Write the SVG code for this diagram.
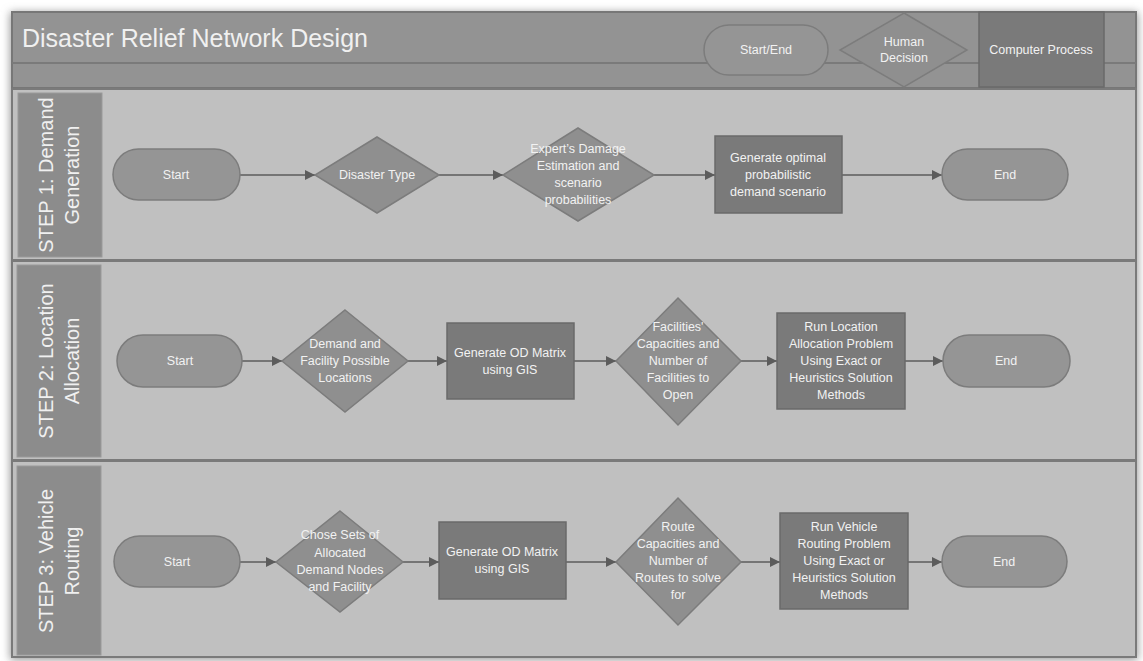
<svg xmlns="http://www.w3.org/2000/svg" width="1143" height="661" viewBox="0 0 1143 661">
<defs>
<filter id="sh" x="-5%" y="-5%" width="110%" height="110%"><feGaussianBlur stdDeviation="4"/></filter>
<marker id="ah" markerWidth="10" markerHeight="10" refX="10" refY="5" orient="auto" markerUnits="userSpaceOnUse"><path d="M0,0 L10,5 L0,10 Z" fill="#5c5c5c"/></marker>
<style>
.frame{fill:#939393;stroke:#777;stroke-width:2}
.lane{fill:#c0c0c0;stroke:#7a7a7a;stroke-width:2}
.lab{fill:#8c8c8c;stroke:#9a9a9a;stroke-width:1}
.pill{fill:#959595;stroke:#7c7c7c;stroke-width:1.5}
.dia{fill:#8f8f8f;stroke:#7c7c7c;stroke-width:1.5}
.proc{fill:#7a7a7a;stroke:#6a6a6a;stroke-width:1.5}
.t{font-family:"Liberation Sans",Arial,sans-serif;font-size:12.5px;fill:#f2f2f2;text-anchor:middle;dominant-baseline:central}
.lt{font-family:"Liberation Sans",Arial,sans-serif;font-size:20px;fill:#f0f0f0;text-anchor:middle;dominant-baseline:central}
.conn line{stroke:#5c5c5c;stroke-width:1.5;marker-end:url(#ah)}
</style>
</defs>
<rect x="0" y="0" width="1143" height="661" fill="#ffffff"/>
<rect x="10" y="12" width="1128" height="648" fill="#9a9a9a" filter="url(#sh)"/>
<g id="header">
<rect class="frame" x="12" y="12" width="1124" height="76"/>
<line x1="12" y1="63" x2="1136" y2="63" stroke="#7a7a7a" stroke-width="2"/>
<text x="22" y="38" font-family="Liberation Sans,Arial,sans-serif" font-size="25" fill="#f0f0f0" dominant-baseline="central">Disaster Relief Network Design</text>
</g>
<g id="legend">
<rect class="pill" x="704" y="25" width="124" height="50" rx="25"/>
<text class="t" x="766" y="50">Start/End</text>
<polygon class="dia" points="904,13 967,50 904,87 840,50"/>
<text class="t" x="904" y="42">Human</text>
<text class="t" x="904" y="58">Decision</text>
<rect class="proc" x="979" y="12" width="125" height="75"/>
<text class="t" x="1041" y="50">Computer Process</text>
</g>
<g id="lane1">
<rect class="lane" x="12" y="89" width="1124" height="171"/>
<rect class="lab" x="18" y="93" width="84" height="164"/>
<text class="lt" transform="translate(46,175) rotate(-90)">STEP 1: Demand</text>
<text class="lt" transform="translate(72,175) rotate(-90)">Generation</text>
</g>
<g id="lane2">
<rect class="lane" x="12" y="261" width="1124" height="199"/>
<rect class="lab" x="17" y="265" width="84" height="192"/>
<text class="lt" transform="translate(46,361) rotate(-90)">STEP 2: Location</text>
<text class="lt" transform="translate(72,361) rotate(-90)">Allocation</text>
</g>
<g id="lane3">
<rect class="lane" x="12" y="461" width="1124" height="196"/>
<rect class="lab" x="17" y="466" width="84" height="189"/>
<text class="lt" transform="translate(46,561) rotate(-90)">STEP 3: Vehicle</text>
<text class="lt" transform="translate(72,561) rotate(-90)">Routing</text>
</g>
<g class="conn" id="connectors">
<line x1="240" y1="175" x2="315" y2="175"/>
<line x1="439" y1="175" x2="503" y2="175"/>
<line x1="654" y1="175" x2="715" y2="175"/>
<line x1="842" y1="175" x2="942" y2="175"/>
<line x1="242" y1="361" x2="282" y2="361"/>
<line x1="408" y1="361" x2="447" y2="361"/>
<line x1="574" y1="361" x2="616" y2="361"/>
<line x1="741" y1="361" x2="777" y2="361"/>
<line x1="905" y1="361" x2="943" y2="361"/>
<line x1="240" y1="562" x2="276" y2="562"/>
<line x1="403" y1="562" x2="439" y2="562"/>
<line x1="566" y1="562" x2="616" y2="562"/>
<line x1="741" y1="562" x2="780" y2="562"/>
<line x1="908" y1="562" x2="942" y2="562"/>
</g>
<g id="s1-start"><rect class="pill" x="113" y="149" width="127" height="51" rx="25.5"/><text class="t" x="176" y="175">Start</text></g>
<g id="s1-disaster"><polygon class="dia" points="377,137 439,175 377,213 315,175"/><text class="t" x="377" y="175">Disaster Type</text></g>
<g id="s1-expert"><polygon class="dia" points="578,128 654,175 578,221 503,175"/>
<text class="t" x="578" y="149">Expert’s Damage</text><text class="t" x="578" y="166">Estimation and</text><text class="t" x="578" y="183">scenario</text><text class="t" x="578" y="200">probabilities</text></g>
<g id="s1-generate"><rect class="proc" x="715" y="136" width="127" height="77"/>
<text class="t" x="778" y="158">Generate optimal</text><text class="t" x="778" y="175">probabilistic</text><text class="t" x="778" y="192">demand scenario</text></g>
<g id="s1-end"><rect class="pill" x="942" y="149" width="126" height="51" rx="25.5"/><text class="t" x="1005" y="175">End</text></g>
<g id="s2-start"><rect class="pill" x="117" y="335" width="125" height="52" rx="26"/><text class="t" x="180" y="361">Start</text></g>
<g id="s2-demand"><polygon class="dia" points="345,310 408,361 345,412 282,361"/>
<text class="t" x="345" y="344">Demand and</text><text class="t" x="345" y="361">Facility Possible</text><text class="t" x="345" y="378">Locations</text></g>
<g id="s2-od"><rect class="proc" x="447" y="323" width="127" height="76"/>
<text class="t" x="510" y="353">Generate OD Matrix</text><text class="t" x="510" y="370">using GIS</text></g>
<g id="s2-facilities"><polygon class="dia" points="678,298 741,361 678,425 616,361"/>
<text class="t" x="678" y="327">Facilities'</text><text class="t" x="678" y="344">Capacities and</text><text class="t" x="678" y="361">Number of</text><text class="t" x="678" y="378">Facilities to</text><text class="t" x="678" y="395">Open</text></g>
<g id="s2-run"><rect class="proc" x="777" y="313" width="128" height="96"/>
<text class="t" x="841" y="327">Run Location</text><text class="t" x="841" y="344">Allocation Problem</text><text class="t" x="841" y="361">Using Exact or</text><text class="t" x="841" y="378">Heuristics Solution</text><text class="t" x="841" y="395">Methods</text></g>
<g id="s2-end"><rect class="pill" x="943" y="335" width="127" height="52" rx="26"/><text class="t" x="1006" y="361">End</text></g>
<g id="s3-start"><rect class="pill" x="114" y="536" width="126" height="51" rx="25.5"/><text class="t" x="177" y="562">Start</text></g>
<g id="s3-chose"><polygon class="dia" points="340,511 403,562 340,612 276,562"/>
<text class="t" x="340" y="535">Chose Sets of</text><text class="t" x="340" y="553">Allocated</text><text class="t" x="340" y="570">Demand Nodes</text><text class="t" x="340" y="587">and Facility</text></g>
<g id="s3-od"><rect class="proc" x="439" y="522" width="127" height="77"/>
<text class="t" x="502" y="552">Generate OD Matrix</text><text class="t" x="502" y="569">using GIS</text></g>
<g id="s3-route"><polygon class="dia" points="678,498 741,562 678,625 616,562"/>
<text class="t" x="678" y="527">Route</text><text class="t" x="678" y="544">Capacities and</text><text class="t" x="678" y="561">Number of</text><text class="t" x="678" y="578">Routes to solve</text><text class="t" x="678" y="595">for</text></g>
<g id="s3-run"><rect class="proc" x="780" y="513" width="128" height="96"/>
<text class="t" x="844" y="527">Run Vehicle</text><text class="t" x="844" y="544">Routing Problem</text><text class="t" x="844" y="561">Using Exact or</text><text class="t" x="844" y="578">Heuristics Solution</text><text class="t" x="844" y="595">Methods</text></g>
<g id="s3-end"><rect class="pill" x="942" y="536" width="125" height="51" rx="25.5"/><text class="t" x="1004" y="562">End</text></g>
</svg>
